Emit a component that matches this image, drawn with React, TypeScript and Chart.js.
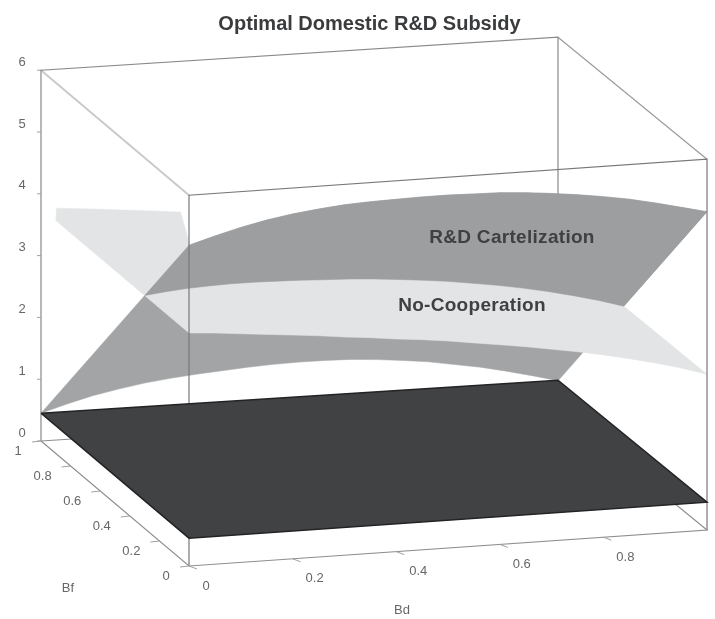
import React, { useEffect, useRef } from "react";
import { Chart, registerables } from "chart.js";

Chart.register(...registerables);

const chartTitle = "Optimal Domestic R&D Subsidy";
const bdGrid = [0, 0.05, 0.1, 0.15, 0.2, 0.25, 0.3, 0.35, 0.4, 0.45, 0.5, 0.55, 0.6, 0.65, 0.7, 0.75, 0.8, 0.85, 0.9, 0.95, 1];
// Surface heights along Bf = 0 and Bf = 1
const cartelFrontZ = [5.19, 5.31, 5.42, 5.51, 5.58, 5.63, 5.67, 5.69, 5.7, 5.71, 5.71, 5.7, 5.69, 5.66, 5.62, 5.57, 5.51, 5.44, 5.35, 5.25, 5.15];
const cartelBackZ = [0.45, 0.57, 0.68, 0.76, 0.83, 0.88, 0.92, 0.95, 0.98, 1.0, 1.01, 1.01, 1.0, 0.97, 0.93, 0.88, 0.81, 0.74, 0.65, 0.55, 0.44];
const noCoopZ = [3.77, 3.74, 3.7, 3.66, 3.62, 3.58, 3.53, 3.49, 3.44, 3.4, 3.35, 3.29, 3.23, 3.17, 3.1, 3.03, 2.95, 2.86, 2.76, 2.65, 2.52];
const floorPlaneZ = 0.45;
// Rear outline of the visible part of the No-Cooperation sheet
const noCoopRearBd = [1, 0.8, 0.6, 0.35, 0.21, 0.27, 0.2, 0.1, 0.03, 0];
const noCoopRearBf = [0.6, 0.6, 0.6, 0.6, 0.73, 1, 1, 1, 1, 0.9];
const zTicks = [0, 1, 2, 3, 4, 5, 6];
const bdTicks = [0, 0.2, 0.4, 0.6, 0.8];
const bfTicks = [0, 0.2, 0.4, 0.6, 0.8, 1];

// view of the unit box
const VIEW = {
  frontLeft: [189, 566],
  frontRight: [707, 530],
  backLeft: [41, 441],
  backRight: [558, 408],
  zUnit: 61.8,
};

type P = { x: number; y: number };

function project(bd: number, bf: number, z: number): P {
  const { frontLeft: a, frontRight: b, backLeft: c, backRight: d, zUnit } = VIEW;
  const blend = (i: number) =>
    a[i] * (1 - bd) * (1 - bf) + b[i] * bd * (1 - bf) + c[i] * (1 - bd) * bf + d[i] * bd * bf;
  return { x: blend(0), y: blend(1) - z * zUnit };
}

function at(arr: number[], bd: number) {
  const t = bd * (bdGrid.length - 1);
  const i = Math.min(Math.floor(t), bdGrid.length - 2);
  return arr[i] + (arr[i + 1] - arr[i]) * (t - i);
}

const ncPoint = (bd: number, bf: number) => project(bd, bf, at(noCoopZ, bd));

const cartelFront = bdGrid.map((b, i) => project(b, 0, cartelFrontZ[i]));
const cartelBack = bdGrid.map((b, i) => project(b, 1, cartelBackZ[i]));
const crossing = bdGrid.map((b, i) => {
  const f = (cartelFrontZ[i] - noCoopZ[i]) / (cartelFrontZ[i] - cartelBackZ[i]);
  return project(b, f, noCoopZ[i]);
});
const noCoopFront = bdGrid.map((b) => ncPoint(b, 0));
const noCoopRear = noCoopRearBd.map((b, i) => ncPoint(b, noCoopRearBf[i]));

const corner = (bd: number, bf: number, z: number) => project(bd, bf, z);

function sheet(label: string, data: P[], color: string, order: number, border = color, bw = 0.5) {
  return {
    label,
    data: [...data, data[0]],
    showLine: true,
    fill: "shape",
    backgroundColor: color,
    borderColor: border,
    borderWidth: bw,
    pointRadius: 0,
    tension: 0,
    clip: false,
    order,
  };
}

function edge(label: string, data: P[], color: string, order: number, width = 1.2) {
  return {
    label,
    data,
    showLine: true,
    fill: false,
    borderColor: color,
    borderWidth: width,
    pointRadius: 0,
    tension: 0,
    clip: false,
    order,
  };
}

const annotations = {
  id: "boxText",
  afterDatasetsDraw(chart: any) {
    const { ctx } = chart;
    const xs = chart.scales.x;
    const ys = chart.scales.y;
    const px = (p: P) => [xs.getPixelForValue(p.x), ys.getPixelForValue(p.y)];
    ctx.save();
    ctx.textAlign = "center";
    ctx.textBaseline = "middle";
    ctx.strokeStyle = "#a0a1a3";
    ctx.lineWidth = 1;
    ctx.fillStyle = "#666769";
    ctx.font = "13px 'Liberation Sans'";
    const tick = (x: number, y: number, dx: number, dy: number) => {
      ctx.beginPath();
      ctx.moveTo(x, y);
      ctx.lineTo(x + dx, y + dy);
      ctx.stroke();
    };
    zTicks.forEach((z) => {
      const [x, y] = px(project(0, 1, z));
      tick(x, y, -4, 0);
      ctx.fillText(String(z), x - 19, y - 8);
    });
    bfTicks.forEach((b) => {
      const [x, y] = px(project(0, b, 0));
      tick(x, y, -9, 1);
      ctx.fillText(String(b), x - (b === 0 || b === 1 ? 23 : 28), y + 10.5);
    });
    bdTicks.forEach((b) => {
      const [x, y] = px(project(b, 0, 0));
      tick(x, y, 8, 3);
      ctx.fillText(String(b), x + (b === 0 ? 17 : 22), y + 20);
    });
    ctx.fillText("Bf", 68, 588);
    ctx.fillText("Bd", 402, 610);
    ctx.fillStyle = "#3f4042";
    ctx.font = "bold 19px 'Liberation Sans'";
    ctx.letterSpacing = "0.3px";
    ctx.fillText("R&D Cartelization", 512, 238);
    ctx.fillText("No-Cooperation", 472, 306);
    ctx.restore();
  },
};

export default function App() {
  const ref = useRef<HTMLCanvasElement>(null);
  useEffect(() => {
    const chart = new Chart(ref.current!, {
      type: "scatter",
      data: {
        datasets: [
          edge("back edges", [corner(0, 1, 0), corner(0, 1, 6), corner(1, 1, 6), corner(1, 1, 0.6)], "#88898b", 90),
          edge("left top edge", [corner(0, 1, 6), corner(0, 0, 6)], "#c9cacb", 91, 2),
          edge("right top edge", [corner(1, 1, 6), corner(1, 0, 6)], "#9a9b9d", 89),
          sheet("R&D Cartelization rear", [...cartelFront, ...[...cartelBack].reverse()], "#a2a4a6", 80),
          sheet("No-Cooperation", [...noCoopFront, ...noCoopRear], "#e3e4e5", 70),
          sheet("R&D Cartelization", [...cartelFront, ...[...crossing].reverse()], "#9c9ea0", 60),
          edge("front frame", [corner(0, 0, 0), corner(0, 0, 6), corner(1, 0, 6), corner(1, 0, 0)], "#77787a", 50),
          edge("floor", [corner(0, 1, 0), corner(0, 0, 0), corner(1, 0, 0), corner(1, 1, 0), corner(0, 1, 0)], "#8d8e90", 40),
          sheet(
            "Zero plane",
            [corner(0, 1, floorPlaneZ), corner(1, 1, floorPlaneZ), corner(1, 0, floorPlaneZ), corner(0, 0, floorPlaneZ)],
            "#414244",
            10,
            "#232325",
            1.5
          ),
        ] as any,
      },
      options: {
        animation: false,
        responsive: false,
        layout: { padding: { left: 24, top: 0, right: 0, bottom: 0 } },
        plugins: {
          legend: { display: false },
          tooltip: { enabled: false },
          title: {
            display: true,
            text: chartTitle,
            fullSize: false,
            color: "#3a3b3d",
            font: { family: "'Liberation Sans'", size: 20, weight: "bold", lineHeight: 1.2 },
            padding: { top: 12, bottom: 4 },
          },
        },
        scales: {
          x: { type: "linear", display: false, min: 24, max: 715 },
          y: { type: "linear", display: false, min: 40, max: 619, reverse: true },
        },
      } as any,
      plugins: [annotations],
    });
    return () => chart.destroy();
  }, []);
  return (
    <canvas
      ref={ref}
      width={715}
      height={619}
      style={{ position: "fixed", left: 0, top: 0, display: "block", filter: "blur(0.6px)" }}
    />
  );
}
